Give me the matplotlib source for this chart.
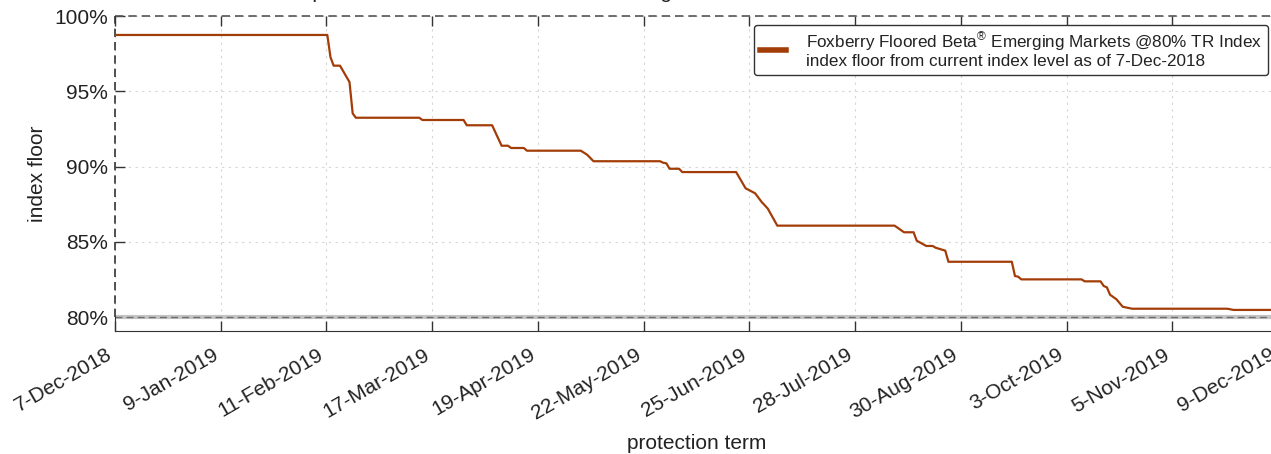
import numpy as np
import pandas as pd
import matplotlib
matplotlib.use('Agg')
import matplotlib.pyplot as plt
import matplotlib.dates as mdates
from matplotlib.transforms import ScaledTranslation


plt.rcParams['font.family'] = ['Liberation Sans', 'DejaVu Sans']
plt.rcParams['mathtext.fontset'] = 'custom'
plt.rcParams['mathtext.rm'] = 'Liberation Sans'

start_date = '2018-12-07'
end_date = '2019-12-09'

# days after start date and the index floor (%) at that protection end date
term_days = [0, 67, 68, 69, 71, 74, 75, 76, 96, 97, 110, 111, 119, 122, 124, 125,
	129, 130, 147, 149, 151, 172, 173, 174, 175, 178, 179, 196, 199, 202, 204,
	206, 209, 246, 249, 252, 253, 256, 258, 259, 262, 263, 283, 284, 285, 286,
	305, 306, 311, 312, 313, 314, 316, 318, 321, 351, 353, 367]
floor_pct = [98.74, 98.74, 97.26, 96.70, 96.70, 95.61, 93.53, 93.24, 93.24, 93.09,
	93.09, 92.74, 92.74, 91.38, 91.38, 91.23, 91.23, 91.05, 91.05, 90.78, 90.35,
	90.35, 90.25, 90.21, 89.85, 89.85, 89.63, 89.63, 88.55, 88.22, 87.66, 87.20,
	86.07, 86.07, 85.63, 85.63, 85.07, 84.72, 84.72, 84.60, 84.41, 83.67, 83.67,
	82.72, 82.68, 82.50, 82.50, 82.37, 82.37, 82.06, 81.97, 81.48, 81.18, 80.68,
	80.55, 80.55, 80.47, 80.47]

tick_labels = ['7-Dec-2018', '9-Jan-2019', '11-Feb-2019', '17-Mar-2019', '19-Apr-2019',
	'22-May-2019', '25-Jun-2019', '28-Jul-2019', '30-Aug-2019', '3-Oct-2019',
	'5-Nov-2019', '9-Dec-2019']
y_ticks = [80, 85, 90, 95, 100]

floor_level = 80
cap_level = 100

legend_text = ('Foxberry Floored Beta$^{\\circledR}$ Emerging Markets @80% TR Index\n'
	'index floor from current index level as of 7-Dec-2018')
title_text = 'Index floor at the end of the protection term from 7-Dec-2018 to a given date'


dates = pd.Timestamp(start_date) + pd.to_timedelta(term_days, unit = 'D')
x0 = mdates.date2num(pd.Timestamp(start_date))
x1 = mdates.date2num(pd.Timestamp(end_date))

fig = plt.figure(figsize = (12.71, 4.54), dpi = 100)
# the plot area runs a few pixels past the right edge of the figure
ax = fig.add_axes([115 / 1271, 1 - 331 / 454, (1278 - 115) / 1271, (331 - 16) / 454])

ax.set_xlim(x0, x1)
ax.set_ylim(79.07, 100)

ax.grid(True, color = '#d4d4d4', linestyle = (0, (2, 4)), linewidth = 0.8)

ax.axhline(floor_level, color = '#c4c4c4', linewidth = 3, zorder = 2)
ax.axhline(floor_level, color = '#6e6e6e', linewidth = 1, linestyle = (0, (5, 3)), zorder = 2)
ax.axhline(cap_level, color = '#555555', linewidth = 1.2, linestyle = (0, (5, 3)), clip_on = False, zorder = 2)
ax.plot([x0, x0], [floor_level, cap_level], color = '#333333', linewidth = 1.2,
	linestyle = (0, (5, 3)), clip_on = False, zorder = 2)

line, = ax.plot(mdates.date2num(dates), floor_pct, color = '#a33d08', linewidth = 1.6, zorder = 3)

for side in ['top', 'right']:
	ax.spines[side].set_visible(False)
ax.spines['left'].set_bounds(79.07, floor_level)
ax.spines['left'].set_color('#333333')
ax.spines['bottom'].set_color('#333333')

ax.set_xticks(np.linspace(x0, x1, len(tick_labels)))
ax.set_xticklabels(tick_labels, rotation = 30, ha = 'right', rotation_mode = 'anchor')
ax.set_yticks(y_ticks)
ax.set_yticklabels([f'{v}%' for v in y_ticks])
ax.tick_params(axis = 'both', direction = 'in', length = 7, width = 1, color = '#333333',
	labelsize = 15, labelcolor = '#222222', top = True, right = False)
ax.tick_params(axis = 'x', pad = 10)
ax.tick_params(axis = 'y', pad = 5)

shift = ScaledTranslation(-9 / 100, 0, fig.dpi_scale_trans)
for tick in ax.xaxis.get_major_ticks():
	tick.label1.set_transform(tick.label1.get_transform() + shift)

ax.set_xlabel('protection term', fontsize = 15, color = '#222222', labelpad = 8)
ax.set_ylabel('index floor', fontsize = 15, color = '#222222', labelpad = 5)

leg = ax.legend([line], [legend_text], loc = 'upper right', bbox_to_anchor = (0.9915, 0.972),
	fontsize = 12.3, handlelength = 1.5, handletextpad = 1.2, borderpad = 0.35,
	borderaxespad = 0, fancybox = True, framealpha = 1, edgecolor = '#333333')
leg.get_frame().set_linewidth(1)
leg.get_lines()[0].set_linewidth(4)
for t in leg.get_texts():
	t.set_color('#222222')
	t.set_linespacing(1.0)

fig.text(0.041, 1.0 + 2 / 454, title_text, fontsize = 15, va = 'baseline', ha = 'left', color = '#222222')

fig.savefig('out.png', dpi = 100)
